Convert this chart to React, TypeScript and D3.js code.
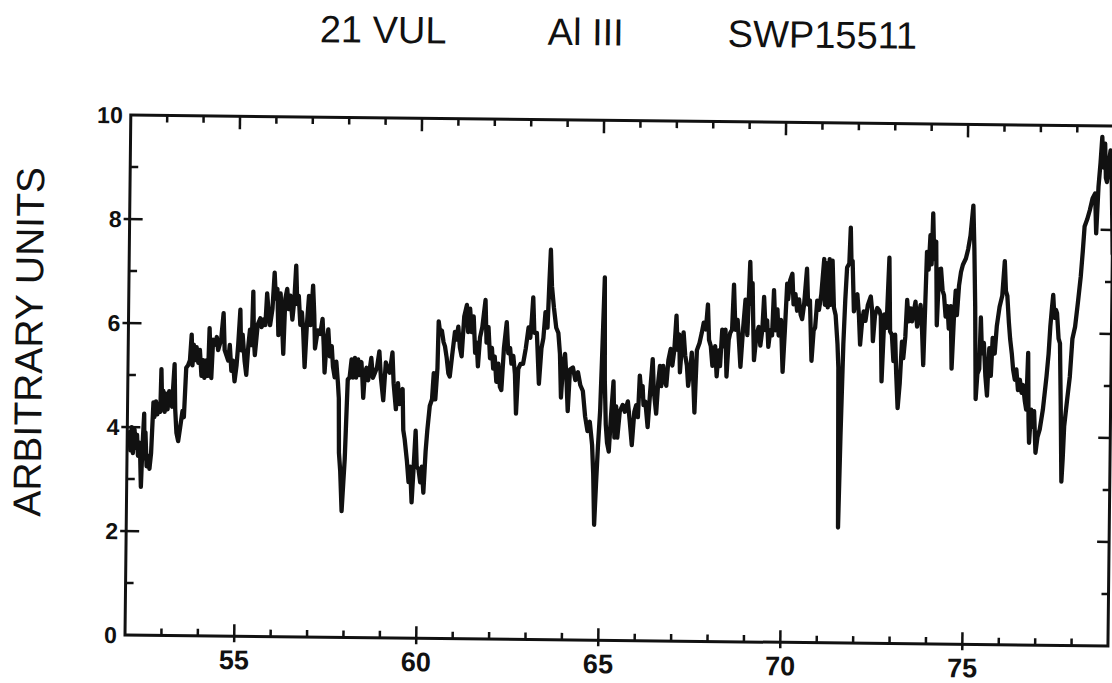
import React, { useRef, useEffect } from 'react';
import { select, scaleLinear, line, curveLinear } from 'd3';

// 21 Vul, Al III region of SWP15511 (x, flux)
const segA: [number, number][] = [
  [52.06, 3.9], [52.09, 3.55], [52.12, 4.0], [52.16, 3.5], [52.2, 3.95], [52.23, 3.6], [52.27, 3.85],
  [52.3, 3.45], [52.35, 3.7], [52.39, 2.85], [52.42, 3.6], [52.46, 4.26], [52.48, 3.4], [52.5, 3.9],
  [52.54, 3.25], [52.58, 3.45], [52.62, 3.2], [52.66, 3.5], [52.71, 4.48], [52.74, 4.2], [52.78, 4.5],
  [52.82, 4.25], [52.86, 4.45], [52.9, 4.3], [52.92, 5.12], [52.95, 4.4], [52.98, 4.7], [53.02, 4.3],
  [53.05, 4.65], [53.1, 4.35], [53.14, 4.7], [53.22, 4.4], [53.28, 5.22], [53.31, 4.35], [53.35, 3.9],
  [53.4, 3.74], [53.45, 4.0], [53.51, 4.32], [53.55, 4.2], [53.6, 5.15], [53.65, 5.2], [53.7, 5.3],
  [53.74, 5.79], [53.77, 5.2], [53.8, 5.6], [53.85, 5.3], [53.88, 5.55], [53.93, 5.25], [53.97, 5.5],
  [54.02, 5.0], [54.06, 5.3], [54.1, 4.96], [54.15, 5.3], [54.2, 5.0], [54.23, 5.92], [54.26, 5.4],
  [54.29, 4.96], [54.33, 5.7], [54.38, 5.6], [54.43, 5.75], [54.47, 5.5], [54.55, 5.7], [54.61, 6.21],
  [54.65, 5.5], [54.7, 5.4], [54.75, 5.3], [54.79, 5.6], [54.84, 5.1], [54.88, 5.3], [54.93, 4.9],
  [54.98, 5.2], [55.02, 5.6], [55.07, 6.28], [55.1, 5.5], [55.14, 5.8], [55.2, 5.3], [55.25, 5.03],
  [55.3, 5.6], [55.34, 5.9], [55.39, 5.6], [55.42, 6.63], [55.45, 5.7], [55.48, 5.41], [55.55, 6.0],
  [55.62, 6.12], [55.66, 5.95], [55.71, 6.1], [55.76, 5.99], [55.8, 6.6], [55.85, 6.2], [55.89, 5.99],
  [55.95, 6.3], [56.0, 7.0], [56.04, 6.5], [56.08, 6.69], [56.12, 5.8], [56.17, 6.6], [56.22, 6.0],
  [56.26, 5.44], [56.3, 6.5], [56.35, 6.69], [56.4, 6.3], [56.44, 6.56], [56.5, 6.1], [56.55, 6.5],
  [56.59, 7.14], [56.63, 6.4], [56.67, 6.56], [56.72, 6.0], [56.76, 6.24], [56.8, 5.9], [56.85, 5.19],
  [56.9, 6.0], [56.95, 6.56], [57.0, 6.0], [57.06, 6.76], [57.1, 6.2], [57.13, 5.55], [57.2, 5.9],
  [57.27, 5.83], [57.33, 6.12], [57.37, 5.6], [57.4, 5.09], [57.45, 5.7], [57.49, 5.92], [57.54, 5.4],
  [57.59, 5.6], [57.63, 5.2], [57.68, 5.0], [57.72, 5.3], [57.77, 4.9], [57.8, 4.6], [57.82, 3.55],
  [57.86, 3.2], [57.91, 2.43], [57.95, 3.0], [57.98, 3.42], [58.01, 4.2], [58.04, 4.96], [58.09, 5.0],
  [58.14, 5.35], [58.18, 5.0], [58.23, 5.38], [58.27, 5.0], [58.32, 5.35], [58.36, 5.05], [58.41, 5.3],
  [58.44, 5.0], [58.47, 4.61], [58.51, 5.1], [58.55, 5.19], [58.6, 4.95], [58.68, 5.38], [58.73, 5.0],
  [58.78, 5.09], [58.84, 5.2], [58.9, 5.51], [58.95, 5.0],
];

const segB: [number, number][] = [
  [59.02, 4.57], [59.08, 5.3], [59.14, 5.15], [59.19, 5.1], [59.26, 5.49], [59.3, 4.9], [59.37, 4.4],
  [59.42, 4.9], [59.47, 4.5], [59.55, 4.79], [59.58, 4.0], [59.62, 3.83], [59.69, 3.4], [59.74, 3.0],
  [59.78, 3.3], [59.83, 2.61], [59.87, 3.2], [59.92, 3.99], [59.96, 3.3], [60.01, 3.25], [60.06, 3.0],
  [60.1, 3.3], [60.15, 2.8], [60.2, 3.6], [60.24, 4.0], [60.3, 4.47], [60.36, 4.6], [60.4, 5.1],
  [60.45, 4.6], [60.5, 5.2], [60.52, 6.1], [60.56, 5.9], [60.61, 5.92], [60.66, 5.7], [60.7, 5.62],
  [60.75, 5.4], [60.8, 5.1], [60.84, 5.04], [60.9, 5.45], [60.97, 5.9], [61.01, 5.75], [61.06, 6.0],
  [61.11, 5.6], [61.16, 5.43], [61.22, 6.2], [61.29, 6.42], [61.33, 5.9], [61.38, 6.35], [61.43, 5.9],
  [61.48, 6.2], [61.53, 5.5], [61.57, 5.7], [61.61, 5.24], [61.66, 5.8], [61.72, 6.0], [61.8, 6.52],
  [61.84, 5.7], [61.89, 6.0], [61.94, 5.4], [61.99, 5.6], [62.03, 5.2], [62.07, 5.43], [62.12, 4.95],
  [62.17, 5.3], [62.22, 4.85], [62.26, 4.79], [62.32, 5.6], [62.39, 6.1], [62.44, 5.5], [62.49, 5.6],
  [62.53, 5.3], [62.58, 5.45], [62.63, 5.1], [62.67, 4.34], [62.72, 5.2], [62.78, 5.3], [62.85, 5.3],
  [62.92, 5.6], [62.99, 6.0], [63.04, 5.8], [63.08, 6.2], [63.11, 6.58], [63.15, 5.9], [63.22, 5.9],
  [63.29, 4.92], [63.35, 5.6], [63.4, 5.8], [63.45, 6.3], [63.51, 6.0], [63.55, 6.9], [63.58, 7.5],
  [63.62, 6.8], [63.68, 6.39], [63.75, 6.0], [63.81, 5.9], [63.86, 5.5], [63.9, 4.66], [63.95, 5.3],
  [64.0, 5.5], [64.04, 5.1], [64.09, 4.4], [64.14, 5.2], [64.22, 5.24], [64.29, 5.0], [64.36, 5.15],
  [64.43, 4.9], [64.5, 4.79], [64.57, 4.3], [64.64, 4.02], [64.7, 4.2], [64.77, 3.76], [64.81, 3.2],
  [64.85, 2.22], [64.89, 3.0], [64.93, 3.7], [64.98, 4.4], [65.02, 5.5], [65.07, 6.98], [65.1, 5.0],
  [65.14, 4.15], [65.18, 3.8], [65.23, 3.63], [65.28, 4.3], [65.34, 4.98], [65.38, 3.9], [65.42, 4.5],
  [65.46, 3.9], [65.52, 4.4], [65.6, 4.53], [65.66, 4.4], [65.74, 4.6], [65.8, 4.2],
];

const segC: [number, number][] = [
  [65.86, 3.76], [65.92, 4.4], [65.97, 4.53], [66.02, 4.3], [66.06, 5.1], [66.1, 4.8], [66.14, 4.9],
  [66.17, 4.53], [66.22, 4.6], [66.29, 4.11], [66.35, 4.8], [66.41, 5.42], [66.45, 4.8], [66.52, 4.37],
  [66.57, 5.0], [66.61, 5.29], [66.65, 4.9], [66.7, 5.29], [66.75, 5.0], [66.79, 4.91], [66.84, 5.4],
  [66.9, 5.62], [66.95, 5.3], [67.0, 5.6], [67.05, 6.26], [67.09, 5.6], [67.13, 5.9], [67.16, 5.17],
  [67.2, 5.6], [67.25, 5.94], [67.3, 5.5], [67.35, 5.3], [67.39, 4.91], [67.44, 5.2], [67.48, 5.55],
  [67.53, 5.0], [67.57, 4.4], [67.62, 5.6], [67.69, 5.74], [67.75, 5.94], [67.8, 6.13], [67.86, 6.0],
  [67.91, 6.48], [67.95, 5.8], [68.0, 5.68], [68.05, 5.3], [68.12, 5.68], [68.17, 5.1], [68.22, 5.6],
  [68.26, 5.3], [68.31, 6.0], [68.35, 5.68], [68.4, 6.0], [68.44, 5.1], [68.49, 5.8], [68.53, 5.94],
  [68.58, 6.0], [68.62, 6.87], [68.67, 6.0], [68.73, 6.19], [68.78, 5.7], [68.82, 5.29], [68.88, 6.0],
  [68.94, 6.58], [69.0, 5.9], [69.06, 7.31], [69.1, 6.5], [69.13, 6.9], [69.16, 6.1], [69.19, 5.42],
  [69.25, 5.9], [69.31, 6.06], [69.36, 5.7], [69.41, 6.0], [69.45, 6.64], [69.5, 6.0], [69.54, 6.19],
  [69.58, 5.68], [69.63, 6.0], [69.68, 5.9], [69.72, 6.77], [69.77, 6.0], [69.82, 6.4], [69.86, 5.9],
  [69.92, 6.2], [69.98, 5.2], [70.03, 6.0], [70.08, 6.9], [70.11, 6.6], [70.16, 6.96], [70.22, 7.09],
  [70.26, 6.5], [70.31, 6.7], [70.36, 6.38], [70.41, 6.6], [70.46, 6.3], [70.5, 6.22], [70.55, 6.5],
  [70.62, 7.19], [70.66, 6.5], [70.71, 6.58], [70.77, 5.42], [70.82, 6.0], [70.86, 6.06], [70.91, 6.58],
  [70.96, 6.4], [71.02, 6.7], [71.09, 7.38], [71.12, 6.5], [71.16, 7.3], [71.2, 6.45], [71.24, 7.38],
  [71.28, 6.5], [71.32, 7.35], [71.37, 6.45], [71.42, 6.3], [71.48, 5.74], [71.51, 5.3], [71.55, 2.22],
  [71.59, 4.0], [71.64, 5.74], [71.68, 6.6], [71.72, 7.22], [71.78, 7.3], [71.81, 7.99], [71.84, 7.3],
  [71.87, 7.35], [71.92, 6.38], [71.96, 6.6], [72.01, 6.71], [72.06, 6.3], [72.1, 5.74], [72.15, 6.2],
  [72.19, 6.38], [72.24, 6.2], [72.3, 6.5], [72.38, 6.67], [72.42, 6.4], [72.45, 5.81], [72.5, 6.3],
  [72.56, 6.45], [72.62, 6.4], [72.66, 6.3], [72.7, 5.04],
];

const segD: [number, number][] = [
  [72.76, 6.33], [72.82, 6.07], [72.88, 7.42], [72.92, 6.0], [72.97, 5.94], [73.02, 5.43], [73.06, 5.94],
  [73.1, 5.2], [73.15, 4.53], [73.2, 5.0], [73.25, 5.81], [73.29, 5.49], [73.34, 5.9], [73.38, 6.61],
  [73.43, 6.2], [73.48, 6.45], [73.52, 6.2], [73.57, 6.4], [73.61, 6.58], [73.66, 6.1], [73.7, 6.3],
  [73.75, 6.52], [73.8, 6.0], [73.84, 5.36], [73.88, 6.6], [73.91, 7.54], [73.96, 7.2], [74.0, 7.86],
  [74.04, 7.3], [74.07, 8.28], [74.11, 7.4], [74.16, 7.74], [74.2, 6.13], [74.25, 7.2], [74.3, 7.22],
  [74.35, 6.8], [74.39, 6.71], [74.44, 6.3], [74.49, 6.5], [74.53, 6.07], [74.58, 6.5], [74.62, 5.3],
  [74.67, 6.3], [74.71, 6.8], [74.75, 6.33], [74.8, 6.9], [74.85, 7.16], [74.9, 7.3], [74.98, 7.42],
  [75.04, 7.6], [75.1, 7.86], [75.17, 8.44], [75.21, 7.61], [75.25, 6.5], [75.29, 4.72], [75.33, 5.2],
  [75.38, 5.3], [75.41, 6.29], [75.45, 5.6], [75.5, 5.8], [75.55, 5.17], [75.6, 4.79], [75.65, 5.7],
  [75.7, 5.17], [75.74, 5.9], [75.8, 5.6], [75.85, 6.13], [75.92, 6.5], [75.99, 6.71], [76.05, 7.38],
  [76.09, 6.8], [76.13, 6.71], [76.18, 6.2], [76.22, 5.88], [76.27, 5.6], [76.31, 5.3], [76.36, 5.1],
  [76.4, 5.3], [76.45, 4.9], [76.5, 5.1], [76.55, 4.85], [76.59, 5.0], [76.64, 4.7], [76.68, 4.53],
  [76.72, 5.62], [76.75, 4.3], [76.77, 3.89], [76.82, 4.53], [76.86, 4.2], [76.9, 4.5], [76.95, 3.7],
  [77.0, 4.0], [77.06, 4.15], [77.14, 4.53], [77.23, 5.17], [77.28, 5.6], [77.32, 6.13], [77.36, 6.5],
  [77.39, 6.74], [77.43, 6.3], [77.47, 6.45], [77.5, 6.39], [77.55, 5.9], [77.59, 5.81], [77.63, 4.6],
  [77.67, 3.15], [77.7, 3.6], [77.73, 4.21], [77.8, 4.7], [77.87, 5.17], [77.93, 5.9], [78.0, 6.13],
  [78.07, 6.6], [78.14, 7.1], [78.19, 7.6], [78.23, 8.06], [78.3, 8.2], [78.37, 8.38], [78.44, 8.6],
  [78.51, 8.7], [78.55, 7.93], [78.6, 8.83], [78.65, 9.3], [78.69, 9.79], [78.73, 9.2], [78.77, 9.66],
  [78.8, 9.0], [78.83, 8.92], [78.88, 9.3], [78.92, 9.53], [78.96, 9.0], [79.01, 7.54], [79.06, 9.02],
];

const spectrum = [...segA, ...segB, ...segC, ...segD];

const xDomain = [52, 79];
const yDomain = [0, 10];
const xTicks = [55, 60, 65, 70, 75];
const yTicks = [0, 2, 4, 6, 8, 10];
const titleParts = ['21 VUL', 'Al III', 'SWP15511'];
const yLabel = 'ARBITRARY UNITS';

const W = 1112;
const H = 683;
const plot = { left: 125, top: 115, right: 1108, bottom: 635 };
const tilt = 0.64; // the scanned figure is slightly rotated

const App = () => {
  const svgRef = useRef(null);

  useEffect(() => {
    const svg = select(svgRef.current);
    const g = svg.select('.figure');
    g.selectAll('*').remove();

    const xScale = scaleLinear().domain(xDomain).range([plot.left, plot.right]);
    const yScale = scaleLinear().domain(yDomain).range([plot.bottom, plot.top]);

    const font = "'Liberation Sans', Arial, Helvetica, sans-serif";

    // title
    const titleX = [313, 541, 721];
    g.selectAll('.title')
      .data(titleParts)
      .join('text')
      .attr('class', 'title')
      .attr('x', (d, i) => titleX[i])
      .attr('y', 40)
      .attr('font-family', font)
      .attr('font-size', 38)
      .attr('fill', '#111')
      .text((d) => d);

    // y label
    g.append('text')
      .attr('transform', 'translate(39,343) rotate(-90)')
      .attr('text-anchor', 'middle')
      .attr('font-family', font)
      .attr('font-size', 39)
      .attr('fill', '#111')
      .text(yLabel);

    // clip for the trace
    g.append('clipPath')
      .attr('id', 'plot-clip')
      .append('rect')
      .attr('x', plot.left)
      .attr('y', plot.top - 2)
      .attr('width', plot.right - plot.left)
      .attr('height', plot.bottom - plot.top + 4);

    const spectrumLine = line<[number, number]>()
      .x((d) => xScale(d[0]))
      .y((d) => yScale(d[1]))
      .curve(curveLinear);

    g.append('path')
      .datum(spectrum)
      .attr('clip-path', 'url(#plot-clip)')
      .attr('d', spectrumLine)
      .attr('fill', 'none')
      .attr('stroke', '#111')
      .attr('stroke-width', 4.3)
      .attr('stroke-linejoin', 'round')
      .attr('stroke-linecap', 'round');

    // frame
    g.append('rect')
      .attr('x', plot.left)
      .attr('y', plot.top)
      .attr('width', plot.right - plot.left)
      .attr('height', plot.bottom - plot.top)
      .attr('fill', 'none')
      .attr('stroke', '#111')
      .attr('stroke-width', 3);

    const ticks = g.append('g').attr('stroke', '#111').attr('stroke-width', 2.5);
    const xMinor = xScale.ticks(27).filter((t) => t > xDomain[0] && t < xDomain[1]);
    const yMinor = yScale.ticks(10).filter((t) => t > yDomain[0] && t < yDomain[1]);
    const isMajorX = (t: number) => xTicks.includes(t);
    const isMajorY = (t: number) => yTicks.includes(t);

    // bottom
    ticks.selectAll('.tb')
      .data(xMinor)
      .join('line')
      .attr('class', 'tb')
      .attr('x1', (d) => xScale(d))
      .attr('x2', (d) => xScale(d))
      .attr('y1', (d) => (isMajorX(d) ? plot.bottom + 6 : plot.bottom))
      .attr('y2', (d) => plot.bottom - (isMajorX(d) ? 12 : 7));
    // top
    ticks.selectAll('.tt')
      .data(xMinor)
      .join('line')
      .attr('class', 'tt')
      .attr('x1', (d) => xScale(d))
      .attr('x2', (d) => xScale(d))
      .attr('y1', plot.top)
      .attr('y2', (d) => plot.top + (isMajorX(d) ? 13 : 7));
    // left
    ticks.selectAll('.tl')
      .data(yMinor)
      .join('line')
      .attr('class', 'tl')
      .attr('y1', (d) => yScale(d))
      .attr('y2', (d) => yScale(d))
      .attr('x1', (d) => (isMajorY(d) ? plot.left - 6 : plot.left))
      .attr('x2', (d) => plot.left + (isMajorY(d) ? 13 : 8));
    // right
    ticks.selectAll('.tr')
      .data(yMinor)
      .join('line')
      .attr('class', 'tr')
      .attr('y1', (d) => yScale(d))
      .attr('y2', (d) => yScale(d))
      .attr('x1', plot.right)
      .attr('x2', (d) => plot.right - (isMajorY(d) ? 12 : 7));

    // tick labels
    g.selectAll('.xl')
      .data(xTicks)
      .join('text')
      .attr('class', 'xl')
      .attr('x', (d) => xScale(d))
      .attr('y', plot.bottom + 33)
      .attr('text-anchor', 'middle')
      .attr('font-family', font)
      .attr('font-weight', 'bold')
      .attr('font-size', 27)
      .attr('fill', '#111')
      .text((d) => d);

    g.selectAll('.yl')
      .data(yTicks)
      .join('text')
      .attr('class', 'yl')
      .attr('x', plot.left - 8)
      .attr('y', (d) => yScale(d))
      .attr('dy', '0.36em')
      .attr('text-anchor', 'end')
      .attr('font-family', font)
      .attr('font-weight', 'bold')
      .attr('font-size', 23)
      .attr('fill', '#111')
      .text((d) => d);
  }, []);

  return (
    <svg
      ref={svgRef}
      width={W}
      height={H}
      style={{ position: 'absolute', left: 0, top: 0, background: '#fff' }}
    >
      <rect width={W} height={H} fill="#fff" />
      <g className="figure" transform={`rotate(${tilt}, ${plot.left}, ${plot.bottom})`} />
    </svg>
  );
};

export default App;
